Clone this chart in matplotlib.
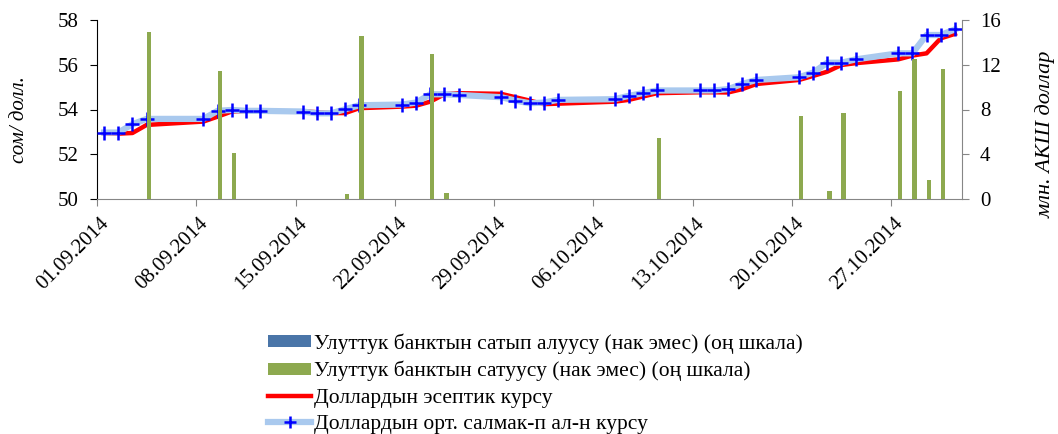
import matplotlib
matplotlib.use("Agg")
import matplotlib.pyplot as plt
import matplotlib.transforms as mtransforms
from matplotlib.lines import Line2D
from matplotlib.patches import Patch
import pandas as pd

plt.rcParams['font.family'] = ['Liberation Serif', 'DejaVu Serif']

# торговые дни
dates = ["01.09", "02.09", "03.09", "04.09", "08.09", "09.09", "10.09", "11.09", "12.09",
         "15.09", "16.09", "17.09", "18.09", "19.09", "22.09", "23.09", "24.09", "25.09",
         "26.09", "29.09", "30.09", "01.10", "02.10", "03.10", "07.10", "08.10", "09.10",
         "10.10", "13.10", "14.10", "15.10", "16.10", "17.10", "20.10", "21.10", "22.10",
         "23.10", "24.10", "27.10", "28.10", "29.10", "30.10", "31.10"]

# официальный курс (красная линия)
official_rate = [52.94, 52.92, 52.95, 53.31, 53.46, 53.68, 53.91, 53.93, 53.93,
                 53.92, 53.88, 53.84, 53.84, 54.06, 54.13, 54.17, 54.35, 54.68,
                 54.73, 54.70, 54.55, 54.40, 54.24, 54.26, 54.35, 54.43, 54.58,
                 54.73, 54.77, 54.77, 54.76, 54.91, 55.14, 55.32, 55.50, 55.69,
                 55.99, 56.07, 56.24, 56.41, 56.51, 57.18, 57.38]

# средневзвешенный курс
avg_rate = [52.97, 52.97, 53.34, 53.58, 53.58, 53.94, 53.98, 53.94, 53.94,
            53.91, 53.83, 53.83, 54.01, 54.19, 54.22, 54.31, 54.68, 54.68,
            54.65, 54.55, 54.40, 54.28, 54.31, 54.43, 54.46, 54.61, 54.73,
            54.85, 54.85, 54.85, 54.91, 55.14, 55.32, 55.44, 55.65, 56.09,
            56.09, 56.24, 56.51, 56.51, 57.33, 57.33, 57.58]

# интервенции НБКР, млн долл.
bar_dates = ["04.09", "09.09", "10.09", "18.09", "19.09", "24.09", "25.09", "10.10",
             "20.10", "22.10", "23.10", "27.10", "28.10", "29.10", "30.10"]
sales = [14.9, 11.48, 4.15, 0.44, 14.57, 12.96, 0.58, 5.44,
         7.43, 0.73, 7.67, 9.66, 12.49, 1.71, 11.62]
purchases = [0] * len(bar_dates)

tick_dates = ["01.09.2014", "08.09.2014", "15.09.2014", "22.09.2014", "29.09.2014",
              "06.10.2014", "13.10.2014", "20.10.2014", "27.10.2014"]

start = pd.Timestamp("2014-09-01")
def day_index(labels):
    d = pd.to_datetime([s + ".2014" for s in labels], format="%d.%m.%Y")
    return list((d - start).days)

x = day_index(dates)
xb = day_index(bar_dates)
xt = [v - 0.5 for v in list((pd.to_datetime(tick_dates, format="%d.%m.%Y") - start).days)]

W, H = 1058, 434
fig = plt.figure(figsize=(W / 100, H / 100), dpi=100)
ax = fig.add_axes([97 / W, 1 - 199 / H, 865 / W, 179 / H])
ax2 = ax.twinx()

red = '#FF0000'
lightblue = '#A9C9EE'
green = '#8DA94F'
darkblue = '#4A75A8'
grey = '#868686'
fs = 15

ax.plot(x, official_rate, color=red, lw=3.2, solid_joinstyle='round', zorder=2)
ax.plot(x, avg_rate, color=lightblue, lw=4.5, marker='+', ms=10, mew=1.8,
        mec='#0000FF', solid_joinstyle='round', zorder=3)

bw = 0.3
ax2.bar([v - bw / 2 for v in xb], purchases, width=bw, color=darkblue)
ax2.bar([v + bw / 2 for v in xb], sales, width=bw, color=green)

ax.set_xlim(-0.5, 60.5)
ax.set_ylim(50, 58)
ax2.set_ylim(0, 16)
ax.set_yticks([50, 52, 54, 56, 58])
ax2.set_yticks([0, 4, 8, 12, 16])

# подписи дат рисуем сами, чтобы сдвинуть их как в Excel
ax.set_xticks(xt)
ax.set_xticklabels([])
lab_tr = ax.get_xaxis_transform() + mtransforms.ScaledTranslation(
    9 / 100, -22 / 100, fig.dpi_scale_trans)
for xv, s in zip(xt, tick_dates):
    ax.text(xv, 0, s, transform=lab_tr, rotation=45, rotation_mode='anchor',
            ha='right', va='center', fontsize=fs)

for a in (ax, ax2):
    a.spines['top'].set_visible(False)
ax.spines['right'].set_visible(False)
ax.spines['left'].set_color('black')
ax.spines['bottom'].set_color(grey)
ax2.spines['left'].set_visible(False)
ax2.spines['bottom'].set_visible(False)
ax2.spines['right'].set_color(grey)

ax.tick_params(axis='y', direction='out', length=5, color='black', labelsize=fs, pad=8)
ax.tick_params(axis='x', direction='out', length=5, color=grey)
ax2.tick_params(axis='y', direction='out', length=5, color=grey, labelsize=fs, pad=8)

fig.text(20 / W, 1 - 120 / H, "сом/ долл.", fontsize=15, style='italic',
         rotation=90, ha='center', va='center')
fig.text(1046 / W, 1 - 134 / H, "млн. АКШ доллар", fontsize=16, style='italic',
         rotation=90, ha='center', va='center')

handles = [
    Patch(facecolor=darkblue),
    Patch(facecolor=green),
    Line2D([], [], color=red, lw=3.2),
    Line2D([], [], color=lightblue, lw=4.5, marker='+', ms=9, mew=1.8, mec='#0000FF'),
]
labels = ["Улуттук банктын сатып алуусу (нак эмес) (оң шкала)",
          "Улуттук банктын сатуусу (нак эмес) (оң шкала)",
          "Доллардын эсептик курсу",
          "Доллардын орт. салмак-п ал-н курсу"]
fig.legend(handles, labels, loc='upper left', bbox_to_anchor=(268 / W, 1 - 333 / H),
           frameon=False, fontsize=15.5, handlelength=2.0, handleheight=0.5,
           handletextpad=0.15, labelspacing=0.34, borderpad=0, borderaxespad=0)

fig.savefig("out.png", dpi=100)
